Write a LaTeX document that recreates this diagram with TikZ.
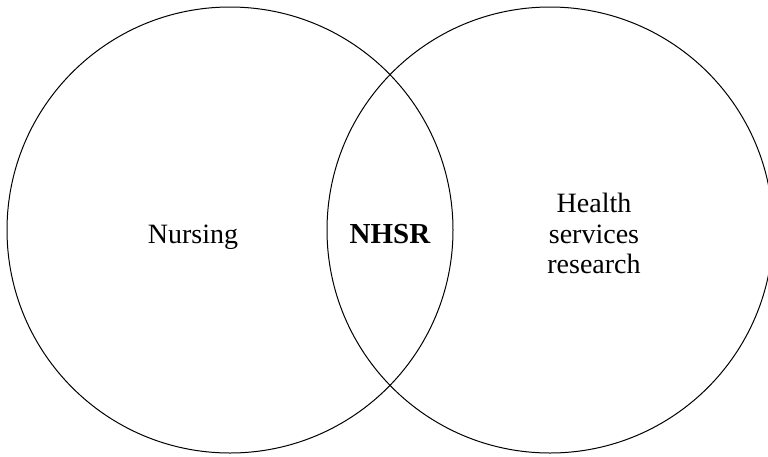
\documentclass[tikz,border=0pt]{standalone}
\usepackage{fontspec}
\setmainfont{Liberation Serif}
\begin{document}
\begin{tikzpicture}[x=1pt,y=-1pt,
  ring/.style={draw=black,line width=1pt},
  label/.style={font=\fontsize{28}{31}\selectfont,align=center,inner sep=0pt}]
\useasboundingbox (0,0) rectangle (768,456);
% the two overlapping fields
\node[ring,circle,minimum size=446pt,inner sep=0pt] (nursing) at (230,230) {};
\node[ring,circle,minimum size=446pt,inner sep=0pt] (hsr) at (550,230) {};
% labels
\node[label,anchor=base] (tn) at (193,243) {Nursing};
\node[label,anchor=base,font=\fontsize{29}{31}\selectfont\bfseries] (tx) at (390,243) {NHSR};
\node[label,anchor=base] (th1) at (594,212) {Health};
\node[label,anchor=base] (th2) at (594,243) {services};
\node[label,anchor=base] (th3) at (594,273) {research};
\end{tikzpicture}
\end{document}
